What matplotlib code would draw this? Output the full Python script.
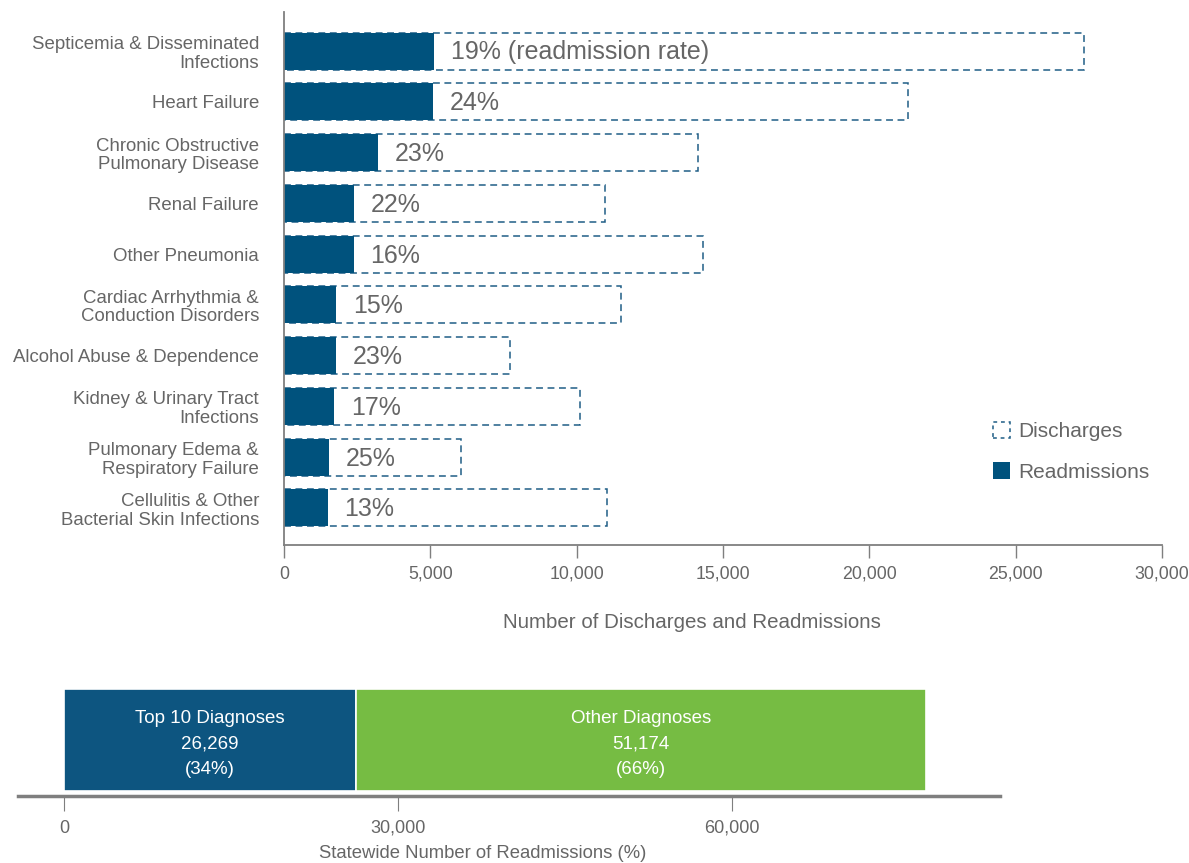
import numpy as np
from matplotlib import pyplot as plt
from matplotlib.patches import Patch

# top chart data
diagnoses = ['Septicemia & Disseminated\nInfections', 'Heart Failure', 'Chronic Obstructive\nPulmonary Disease',
             'Renal Failure', 'Other Pneumonia', 'Cardiac Arrhythmia &\nConduction Disorders',
             'Alcohol Abuse & Dependence', 'Kidney & Urinary Tract\nInfections',
             'Pulmonary Edema &\nRespiratory Failure', 'Cellulitis & Other\nBacterial Skin Infections']
discharges = [27330, 21320, 14140, 10970, 14310, 11510, 7720, 10110, 6050, 11030]
readmissions = [5120, 5090, 3210, 2390, 2390, 1780, 1780, 1710, 1540, 1500]
rates = [19, 24, 23, 22, 16, 15, 23, 17, 25, 13]

# bottom chart data
groups = ['Top 10 Diagnoses', 'Other Diagnoses']
group_counts = [26269, 51174]
group_shares = [34, 66]

blue = '#00527D'
green = '#76BC43'
grey_txt = '#666666'
grey_line = '#7f7f7f'

plt.rcParams['font.family'] = ['Liberation Sans', 'DejaVu Sans']

fig = plt.figure(figsize=(11.89, 8.63), dpi=100)

# ---- top chart
ax = fig.add_axes([284/1189, 1-545/863, (1162-284)/1189, (545-12)/863])
y = np.arange(len(diagnoses))
h = 0.73
ax.barh(y, discharges, height=h, facecolor='white', edgecolor='#1F5E86',
        linewidth=1.1, linestyle=(0, (4.5, 3)))
ax.barh(y, readmissions, height=h, color=blue, edgecolor='none')
for i in range(len(diagnoses)):
    txt = f'{rates[i]}%' + (' (readmission rate)' if i == 0 else '')
    ax.annotate(txt, xy=(readmissions[i], y[i]), xytext=(12, -1), textcoords='offset points',
                va='center', ha='left', fontsize=18, color=grey_txt)

ax.set_xlim(0, 30000)
ax.set_ylim(len(diagnoses) - 1 + 0.73, -0.77)
ax.set_yticks(y)
ax.set_yticklabels(diagnoses, fontsize=13.4, color=grey_txt, linespacing=1.12)
ax.tick_params(axis='y', length=0, pad=18)
ax.set_xticks(np.arange(0, 30001, 5000))
ax.set_xticklabels([f'{v:,}' for v in range(0, 30001, 5000)], fontsize=12.8, color=grey_txt)
ax.tick_params(axis='x', length=9, width=1, color=grey_line, pad=6)
ax.set_xlabel('Number of Discharges and Readmissions', fontsize=14.8, color=grey_txt)
ax.xaxis.set_label_coords(0.465, -0.128)
for s in ['top', 'right']:
    ax.spines[s].set_visible(False)
for s in ['left', 'bottom']:
    ax.spines[s].set_color(grey_line)
    ax.spines[s].set_linewidth(1.3)

handles = [Patch(facecolor='white', edgecolor='#1F5E86', linestyle=(0, (2.5, 2.5)), linewidth=1.1, label='Discharges'),
           Patch(facecolor=blue, edgecolor='none', label='Readmissions')]
leg = ax.legend(handles=handles, loc='upper left', bbox_to_anchor=(974/1189, 1-403/863),
                bbox_transform=fig.transFigure, frameon=False, fontsize=15,
                handlelength=0.85, handleheight=0.85, handletextpad=0.35, labelspacing=1.0)
for t in leg.get_texts():
    t.set_color(grey_txt)

# ---- bottom chart
ax2 = fig.add_axes([18/1189, 1-796/863, (1000-18)/1189, (796-680)/863])
left = np.concatenate([[0], np.cumsum(group_counts)[:-1]])
ax2.barh(0.48, group_counts, left=left, height=0.88, color=['#0D5580', green],
         edgecolor='white', linewidth=1.2)
for i in range(len(groups)):
    ax2.text(left[i] + group_counts[i] / 2, 0.445, f'{groups[i]}\n{group_counts[i]:,}\n({group_shares[i]}%)',
             ha='center', va='center', color='white', fontsize=13.5, linespacing=1.65)
ax2.set_xlim((18-64)/11.13*1000, (1000-64)/11.13*1000)
ax2.set_ylim(0, 1)
ax2.set_yticks([])
ax2.set_xticks([0, 30000, 60000])
ax2.set_xticklabels(['0', '30,000', '60,000'], fontsize=13, color=grey_txt)
ax2.tick_params(axis='x', length=11, width=0.8, color=grey_line, pad=6)
ax2.set_xlabel('Statewide Number of Readmissions (%)', fontsize=13.3, color=grey_txt, labelpad=7)
ax2.xaxis.set_label_coords(0.4735, -0.42)
for s in ['top', 'right', 'left']:
    ax2.spines[s].set_visible(False)
ax2.spines['bottom'].set_color(grey_line)
ax2.spines['bottom'].set_linewidth(2.5)

fig.savefig('out.png', dpi=100)
